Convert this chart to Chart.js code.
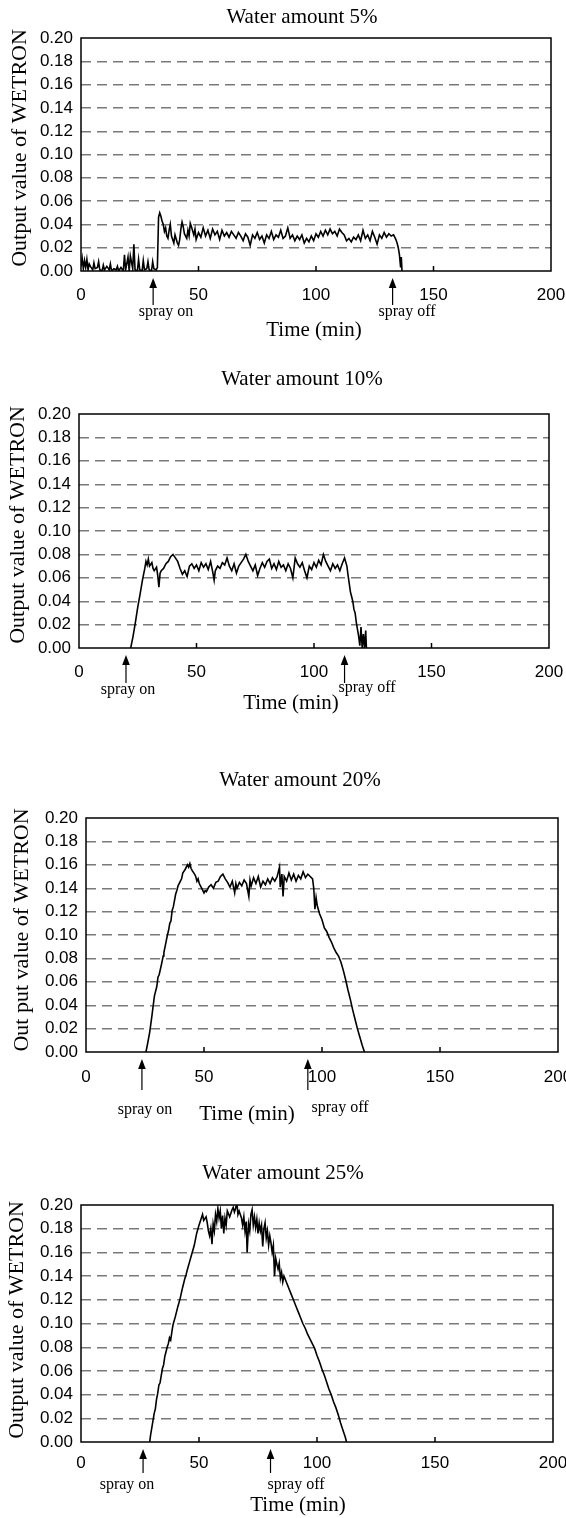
<!DOCTYPE html>
<html>
<head>
<meta charset="utf-8">
<title>Output value of WETRON</title>
<script src="https://cdn.jsdelivr.net/npm/chart.js@4.4.1/dist/chart.umd.min.js"></script>
<style>
  html, body { margin: 0; padding: 0; background: #fff; }
  body { position: relative; width: 566px; height: 1518px; overflow: hidden; }
  canvas { position: absolute; left: 0; }
</style>
</head>
<body>
<canvas id="p5" width="566" height="345" style="top:0px"></canvas>
<canvas id="p10" width="566" height="370" style="top:345px"></canvas>
<canvas id="p20" width="566" height="415" style="top:715px"></canvas>
<canvas id="p25" width="566" height="388" style="top:1130px"></canvas>
<script>
// axis ticks
const X_TICKS = [0, 50, 100, 150, 200];
const INNER_TICKS = [50, 100, 150];

// Water amount 5%
const time5 = [0,0.5,1,1.5,2,2.5,3,3.5,4,5,5.5,6,7,7.5,8,9,9.5,10,11,12,12.5,13,14,15,15.5,16,17,18,18.5,19,20,20.5,21,22,22.5,23,24,24.5,25,26,26.5,27,28,28.5,29,30,30.5,31,32,32.5,
  33,33.5,34,34.5,35,35.5,36,36.5,37,37.5,38,38.5,39,39.5,40,41,41.5,42,42.5,43,43.5,44,45,45.5,46,46.5,47,48,48.5,49,
  50,51,52,53,54,55,56,57,58,59,60,61,62,63,64,65,66,67,68,69,70,71,72,73,74,75,76,77,78,79,80,81,82,83,84,85,86,87,88,89,
  90,91,92,93,94,95,96,97,98,99,100,101,102,103,104,105,106,107,108,109,110,111,112,113,114,115,116,117,118,119,120,121,122,123,124,125,126,127,128,129,
  130,131,132,133,133.5,134,134.5,135,135.5,136,136.3,136.6,137];
const value5 = [0.004,0.011,0.002,0.009,0.003,0.010,0.001,0.006,0.004,0.001,0.007,0.002,0.003,0.008,0.001,0.0,0.005,0.001,0.004,0.001,0.006,0.0,0.002,0.001,0.004,0.0,0.003,0.0,0.014,0.001,0.012,0.0,0.013,0.002,0.023,0.001,0.0,0.010,0.001,0.0,0.009,0.001,0.002,0.008,0.001,0.0,0.008,0.002,0.001,0.003,
  0.046,0.050,0.047,0.043,0.040,0.034,0.037,0.030,0.028,0.035,0.040,0.030,0.027,0.024,0.031,0.024,0.022,0.027,0.036,0.042,0.038,0.032,0.028,0.035,0.030,0.041,0.038,0.031,0.036,0.027,
  0.033,0.029,0.037,0.030,0.035,0.028,0.036,0.031,0.034,0.027,0.035,0.030,0.033,0.029,0.034,0.031,0.028,0.033,0.030,0.026,0.032,0.029,0.022,0.031,0.028,0.033,0.027,0.030,0.024,0.031,0.028,0.034,0.027,0.031,0.029,0.035,0.028,0.030,0.037,0.028,
  0.031,0.026,0.030,0.027,0.031,0.024,0.028,0.025,0.030,0.026,0.032,0.029,0.034,0.030,0.035,0.031,0.036,0.032,0.034,0.030,0.036,0.033,0.031,0.026,0.028,0.025,0.029,0.027,0.031,0.026,0.035,0.028,0.031,0.026,0.034,0.029,0.023,0.031,0.028,0.033,
  0.029,0.032,0.030,0.031,0.029,0.027,0.024,0.020,0.014,0.003,0.012,0.0,0.0];

// Water amount 10%
const time10 = [22,23,24,25,26,27,28,28.5,29,29.5,30,31,31.5,32,33,33.5,34,34.5,35,36,37,38,39,40,41,42,43,44,45,46,47,48,49,
  50,51,52,53,54,55,56,57,57.5,58,59,60,61,62,63,64,65,66,67,68,69,70,71,72,73,74,75,76,77,78,79,80,81,82,83,84,85,86,87,88,89,
  90,91,92,93,94,95,96,97,98,99,100,101,102,103,104,105,106,107,108,109,110,111,112,113,114,114.5,115,115.5,116,116.5,117,117.5,118,118.5,119,119.5,
  120,120.5,121,121.5,122,122.3];
const value10 = [0,0.010,0.022,0.035,0.046,0.058,0.068,0.074,0.071,0.076,0.070,0.073,0.068,0.066,0.069,0.062,0.052,0.064,0.066,0.068,0.072,0.074,0.078,0.080,0.077,0.074,0.068,0.063,0.066,0.061,0.070,0.072,0.068,
  0.071,0.066,0.073,0.069,0.072,0.067,0.074,0.064,0.058,0.066,0.070,0.068,0.073,0.071,0.077,0.070,0.066,0.072,0.064,0.070,0.073,0.076,0.080,0.074,0.070,0.066,0.071,0.062,0.068,0.073,0.069,0.074,0.076,0.068,0.072,0.067,0.074,0.069,0.071,0.066,0.072,
  0.068,0.060,0.077,0.072,0.069,0.073,0.066,0.060,0.070,0.067,0.073,0.069,0.075,0.071,0.080,0.074,0.070,0.066,0.072,0.068,0.071,0.066,0.072,0.077,0.070,0.062,0.055,0.048,0.044,0.040,0.033,0.030,0.022,0.016,0.010,0.002,
  0.018,0.0,0.012,0.0,0.015,0.0];

// Water amount 20%
const time20 = [25.4,26,27,28,28.5,29,30,30.5,31,32,32.7,33,34,34.5,35,35.5,36,36.5,37,38,38.5,39,40,40.5,41,42,43,43.5,44,44.5,45,46,46.5,47,47.5,48,49,
  50,50.5,51,52,53,54,55,56,57,58,59,60,61,62,63,63.5,64,65,66,67,68,69,69.5,70,71,72,73,74,75,76,77,78,79,80,81,82,82.3,83,83.5,84,85,86,87,88,89,
  90,91,92,93,94,95,96,96.5,97,97.5,98,99,100,101,102,103,104,105,106,107,108,109,110,111,112,113,114,115,116,117,118];
const value20 = [0,0.006,0.017,0.032,0.040,0.048,0.056,0.064,0.066,0.075,0.082,0.085,0.095,0.100,0.104,0.110,0.112,0.121,0.124,0.135,0.138,0.142,0.146,0.148,0.153,0.156,0.160,0.158,0.161,0.157,0.155,0.152,0.150,0.146,0.148,0.144,0.140,
  0.136,0.138,0.137,0.141,0.143,0.140,0.145,0.146,0.150,0.152,0.148,0.145,0.141,0.146,0.136,0.144,0.140,0.145,0.142,0.147,0.144,0.133,0.147,0.142,0.149,0.144,0.150,0.141,0.146,0.143,0.148,0.144,0.149,0.146,0.150,0.158,0.141,0.152,0.133,0.150,0.146,0.153,0.147,0.152,0.146,
  0.151,0.148,0.154,0.149,0.152,0.150,0.148,0.140,0.122,0.132,0.125,0.118,0.113,0.106,0.103,0.098,0.094,0.089,0.085,0.082,0.077,0.070,0.062,0.053,0.045,0.036,0.028,0.020,0.013,0.006,0];

// Water amount 25%
const time25 = [29.1,29.5,30,30.5,31,31.5,32,32.5,33,33.5,34,34.5,35,35.5,36,36.5,37,37.5,38,38.5,39,40,41,42,43,44,44.5,45,46,47,48,49,
  50,51,51.5,52,53,53.5,54,54.5,55,55.5,56,56.5,57,57.5,58,58.5,59,59.5,60,60.5,61,61.5,62,63,64,64.5,65,65.5,66,66.5,67,68,68.5,69,69.5,
  70,70.4,71,71.5,72,72.5,73,73.5,74,74.5,75,75.5,76,76.5,77,77.5,78,78.5,79,79.5,80,80.5,81,81.5,82,82.5,83,83.5,84,84.5,85,85.5,86,
  87,88,89,90,91,92,93,94,95,96,97,98,99,100,101,102,103,104,105,106,107,108,109,110,111,112,112.5];
const value25 = [0,0.006,0.012,0.018,0.024,0.028,0.036,0.041,0.048,0.050,0.056,0.062,0.065,0.072,0.076,0.080,0.083,0.088,0.086,0.093,0.099,0.106,0.114,0.121,0.130,0.138,0.141,0.145,0.152,0.159,0.166,0.176,
  0.183,0.189,0.192,0.187,0.190,0.185,0.178,0.174,0.180,0.167,0.184,0.178,0.192,0.186,0.197,0.189,0.195,0.180,0.191,0.176,0.189,0.183,0.195,0.190,0.196,0.198,0.194,0.197,0.203,0.192,0.195,0.189,0.183,0.190,0.178,
  0.186,0.160,0.184,0.178,0.192,0.196,0.183,0.190,0.181,0.188,0.176,0.185,0.178,0.183,0.165,0.180,0.185,0.172,0.178,0.166,0.174,0.168,0.160,0.166,0.140,0.155,0.150,0.146,0.151,0.138,0.143,0.135,0.140,
  0.135,0.130,0.125,0.120,0.115,0.110,0.105,0.100,0.096,0.091,0.087,0.083,0.079,0.073,0.068,0.062,0.057,0.051,0.045,0.040,0.034,0.029,0.023,0.016,0.010,0.004,0];

// spray on / spray off times (min)
const sprayOn = [30.7, 20, 23.7, 26.3];
const sprayOff = [132.6, 113, 94, 80.3];

const titles = ["Water amount 5%", "Water amount 10%", "Water amount 20%", "Water amount 25%"];
const yTitles = ["Output value of WETRON", "Output value of WETRON", "Out put value of WETRON", "Output value of WETRON"];

// page layout of each panel (page pixels)
const PANELS = [
  { id: "p5",  time: time5,  value: value5,  top: 0,    h: 345, L: 81, R: 551, T: 38,  B: 271,  lblPad: 14,
    titleX: 302, titleY: 17, yTitleX: 20, yTitleY: 148, shaftEnd: 305,
    onLbl: [166, 312], offLbl: [407, 312], xLbl: [314, 330] },
  { id: "p10", time: time10, value: value10, top: 345,  h: 370, L: 79, R: 549, T: 414, B: 648,  lblPad: 14,
    titleX: 302, titleY: 379, yTitleX: 18, yTitleY: 525, shaftEnd: 683,
    onLbl: [128, 690], offLbl: [367, 688], xLbl: [291, 703] },
  { id: "p20", time: time20, value: value20, top: 715,  h: 415, L: 86, R: 558, T: 818, B: 1052, lblPad: 15,
    titleX: 300, titleY: 780, yTitleX: 22, yTitleY: 930, shaftEnd: 1090,
    onLbl: [145, 1110], offLbl: [340, 1108], xLbl: [247, 1114] },
  { id: "p25", time: time25, value: value25, top: 1130, h: 388, L: 81, R: 553, T: 1205, B: 1442, lblPad: 11,
    titleX: 283, titleY: 1173, yTitleX: 17, yTitleY: 1320, shaftEnd: 1473,
    onLbl: [127, 1485], offLbl: [296, 1485], xLbl: [298, 1505] },
];

const SERIF = "'Liberation Serif', 'Times New Roman', serif";
const SANS = "'Liberation Sans', Arial, sans-serif";

function drawArrow(ctx, x, tip, end) {
  ctx.beginPath();
  ctx.moveTo(x, tip + 8);
  ctx.lineTo(x, end);
  ctx.lineWidth = 1.2;
  ctx.stroke();
  ctx.beginPath();
  ctx.moveTo(x, tip);
  ctx.lineTo(x - 3.8, tip + 10);
  ctx.lineTo(x + 3.8, tip + 10);
  ctx.closePath();
  ctx.fill();
}

const annotate = {
  id: "annotate",
  afterDraw(chart, args, o) {
    const { ctx, chartArea: a } = chart;
    const xs = chart.scales.x;
    const dy = o.top;
    ctx.save();
    ctx.strokeStyle = "#000";
    ctx.fillStyle = "#000";
    ctx.lineWidth = 1.5;
    ctx.strokeRect(a.left, a.top, a.right - a.left, a.bottom - a.top);
    INNER_TICKS.forEach((v) => {
      const px = xs.getPixelForValue(v);
      ctx.beginPath();
      ctx.moveTo(px, a.bottom);
      ctx.lineTo(px, a.bottom - 5);
      ctx.stroke();
    });

    ctx.textAlign = "center";
    ctx.textBaseline = "middle";
    ctx.font = `21px ${SERIF}`;
    ctx.fillText(o.title, o.titleX, o.titleY - dy);

    ctx.save();
    ctx.translate(o.yTitleX, o.yTitleY - dy);
    ctx.rotate(-Math.PI / 2);
    ctx.font = `22px ${SERIF}`;
    ctx.fillText(o.yTitle, 0, 0);
    ctx.restore();

    drawArrow(ctx, xs.getPixelForValue(o.on), a.bottom + 7, o.shaftEnd - dy);
    drawArrow(ctx, xs.getPixelForValue(o.off), a.bottom + 7, o.shaftEnd - dy);

    ctx.font = `16px ${SERIF}`;
    ctx.fillText("spray on", o.onLbl[0], o.onLbl[1] - dy);
    ctx.fillText("spray off", o.offLbl[0], o.offLbl[1] - dy);
    ctx.font = `21px ${SERIF}`;
    ctx.fillText("Time (min)", o.xLbl[0], o.xLbl[1] - dy);
    ctx.restore();
  },
};

PANELS.forEach((p, i) => {
  const points = p.time.map((t, k) => ({ x: t, y: p.value[k] }));
  new Chart(document.getElementById(p.id), {
    type: "line",
    data: {
      datasets: [
        {
          data: points,
          borderColor: "#000",
          borderWidth: 1.6,
          pointRadius: 0,
          tension: 0,
          fill: false,
        },
      ],
    },
    options: {
      responsive: false,
      animation: false,
      events: [],
      layout: {
        padding: { left: 0, top: p.T - p.top, right: 566 - p.R, bottom: p.h - (p.B - p.top) - 40 },
      },
      plugins: {
        legend: { display: false },
        tooltip: { enabled: false },
        annotate: {
          top: p.top,
          title: titles[i],
          titleX: p.titleX,
          titleY: p.titleY,
          yTitle: yTitles[i],
          yTitleX: p.yTitleX,
          yTitleY: p.yTitleY,
          on: sprayOn[i],
          off: sprayOff[i],
          shaftEnd: p.shaftEnd,
          onLbl: p.onLbl,
          offLbl: p.offLbl,
          xLbl: p.xLbl,
        },
      },
      scales: {
        x: {
          type: "linear",
          min: 0,
          max: 200,
          afterBuildTicks: (scale) => {
            scale.ticks = X_TICKS.map((v) => ({ value: v }));
          },
          afterFit: (scale) => {
            scale.height = 40;
            scale.paddingLeft = 0;
            scale.paddingRight = 0;
          },
          grid: { display: false, drawTicks: false },
          border: { display: false },
          ticks: {
            padding: p.lblPad,
            maxRotation: 0,
            autoSkip: false,
            color: "#000",
            font: { family: SANS, size: 17 },
          },
        },
        y: {
          min: 0,
          max: 0.2,
          afterFit: (scale) => {
            scale.width = p.L;
            scale.paddingTop = 0;
            scale.paddingBottom = 0;
          },
          grid: {
            drawTicks: false,
            lineWidth: 1.4,
            color: (ctx) => {
              const v = ctx.tick ? ctx.tick.value : 0;
              return v > 0.001 && v < 0.199 ? "#7a7a7a" : "rgba(0,0,0,0)";
            },
          },
          border: { display: false, dash: [10, 6] },
          ticks: {
            stepSize: 0.02,
            autoSkip: false,
            padding: 8,
            color: "#000",
            font: { family: SANS, size: 17 },
            callback: (v) => Number(v).toFixed(2),
          },
        },
      },
    },
    plugins: [annotate],
  });
});
</script>
</body>
</html>
